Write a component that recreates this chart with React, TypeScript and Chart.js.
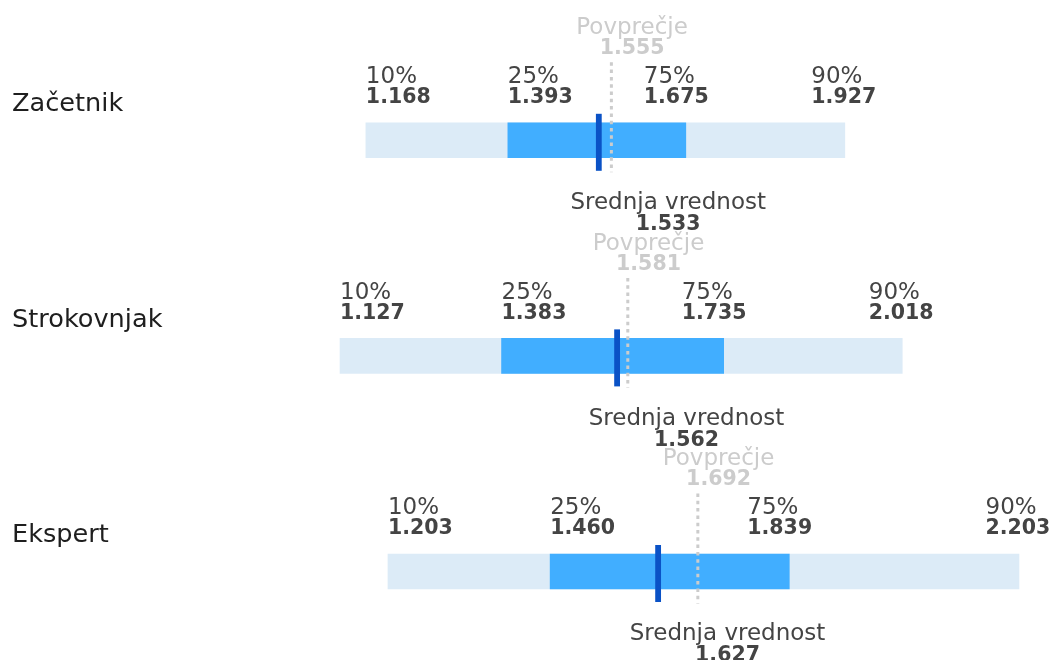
import React, { useEffect, useRef } from "react";
import { Chart, registerables } from "chart.js";

Chart.register(...registerables);

const categories = ["Začetnik", "Strokovnjak", "Ekspert"];
const p10 = [1.168, 1.127, 1.203];
const p25 = [1.393, 1.383, 1.46];
const p75 = [1.675, 1.735, 1.839];
const p90 = [1.927, 2.018, 2.203];
const medians = [1.533, 1.562, 1.627];
const means = [1.555, 1.581, 1.692];
const pctLabels = ["10%", "25%", "75%", "90%"];
const medianLabel = "Srednja vrednost";
const meanLabel = "Povprečje";

const FONT = '"DejaVu Sans", sans-serif';

const overlayPlugin = {
  id: "overlay",
  afterDatasetsDraw(chart: any) {
    const ctx = chart.ctx as CanvasRenderingContext2D;
    const xs = chart.scales.x;
    const ys = chart.scales.y;
    ctx.save();
    categories.forEach((cat, i) => {
      const cy = ys.getPixelForValue(i);
      // category label
      ctx.fillStyle = "#1e1e1e";
      ctx.font = `25.6px ${FONT}`;
      ctx.textAlign = "left";
      ctx.textBaseline = "alphabetic";
      ctx.fillText(cat, 12, cy - 29);

      // median marker
      const mx = xs.getPixelForValue(medians[i]);
      ctx.fillStyle = "#0a52c6";
      ctx.fillRect(mx - 0.3, cy - 26.5, 5.8, 57);

      // mean dotted line
      const ax = xs.getPixelForValue(means[i]);
      ctx.strokeStyle = "#cccccc";
      ctx.lineWidth = 3;
      ctx.setLineDash([3.5, 3.8]);
      ctx.beginPath();
      ctx.moveTo(ax + 1.3, cy - 78);
      ctx.lineTo(ax + 1.3, cy + 32);
      ctx.stroke();
      ctx.setLineDash([]);

      // percentile labels
      const vals = [p10[i], p25[i], p75[i], p90[i]];
      const offs = [0, 0, -42, -33.5];
      vals.forEach((v, k) => {
        const px = xs.getPixelForValue(v) + offs[k];
        ctx.fillStyle = "#444444";
        ctx.textAlign = "left";
        ctx.font = `23px ${FONT}`;
        ctx.fillText(pctLabels[k], px, cy - 57);
        ctx.font = `bold 20.5px ${FONT}`;
        ctx.fillText(v.toFixed(3), px, cy - 37);
      });

      // mean label
      ctx.textAlign = "center";
      ctx.fillStyle = "#cccccc";
      ctx.font = `23px ${FONT}`;
      ctx.fillText(meanLabel, ax + 22, cy - 106);
      ctx.font = `bold 20.5px ${FONT}`;
      ctx.fillText(means[i].toFixed(3), ax + 22, cy - 86.3);

      // median label
      ctx.fillStyle = "#444444";
      ctx.font = `23px ${FONT}`;
      ctx.fillText(medianLabel, mx + 72, cy + 69);
      ctx.font = `bold 20.5px ${FONT}`;
      ctx.fillText(medians[i].toFixed(3), mx + 72, cy + 89.7);
    });
    ctx.restore();
  },
};

export default function App() {
  const ref = useRef<HTMLCanvasElement | null>(null);
  useEffect(() => {
    document.body.style.margin = "0";
    const canvas = ref.current;
    if (!canvas) return;
    const chart = new Chart(canvas, {
      type: "bar",
      data: {
        datasets: [
          {
            label: "10%-90%",
            data: categories.map((_, i) => ({ x: [p10[i], p90[i]], y: i })) as any,
            backgroundColor: "#dcebf7",
            barThickness: 35,
            grouped: false,
            borderWidth: 0,
            order: 2,
          } as any,
          {
            label: "25%-75%",
            data: categories.map((_, i) => ({ x: [p25[i], p75[i]], y: i })) as any,
            backgroundColor: "#41aeff",
            barThickness: 35,
            grouped: false,
            borderWidth: 0,
            order: 1,
          } as any,
        ],
      },
      options: {
        indexAxis: "y",
        animation: false,
        responsive: false,
        maintainAspectRatio: false,
        layout: { padding: 0 },
        plugins: {
          legend: { display: false },
          tooltip: { enabled: false },
        },
        scales: {
          x: { type: "linear", min: 0.5882, max: 2.2553, display: false, offset: false, grace: 0 },
          y: { type: "linear", min: -0.6507, max: 2.4105, reverse: true, display: false, offset: false, grace: 0 },
        },
      },
      plugins: [overlayPlugin],
    });
    return () => chart.destroy();
  }, []);
  return (
    <div style={{ position: "absolute", left: 0, top: 0, width: 1052, height: 660, background: "#fff" }}>
      <canvas ref={ref} width={1052} height={660} style={{ display: "block", width: 1052, height: 660 }} />
    </div>
  );
}
